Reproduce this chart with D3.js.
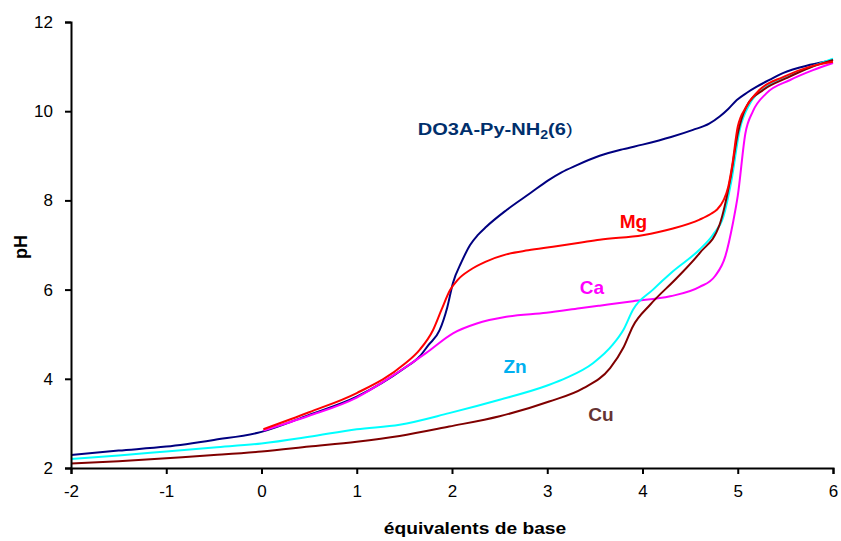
<!DOCTYPE html>
<html><head><meta charset="utf-8">
<script src="https://cdn.jsdelivr.net/npm/d3@7"></script>
<style>body{margin:0;background:#fff}svg{display:block;font-family:Arial,"Liberation Sans",sans-serif}</style>
</head><body><svg id="c" width="841" height="541"></svg>
<script>
const xTicks = [-2,-1,0,1,2,3,4,5,6];
const yTicks = [2,4,6,8,10,12];

const do3aX = [-2,-1.5,-1,-0.5,0,0.5,1,1.5,1.66,1.75,1.87,1.95,2.01,2.1,2.19,2.27,2.36,2.57,2.82,3.01,3.15,3.3,3.55,3.8,4.0,4.3,4.53,4.7,4.81,4.9,4.99,5.1,5.2,5.35,5.48,5.76,6.0];
const do3aY = [2.29,2.39,2.48,2.63,2.81,3.19,3.6,4.24,4.5,4.75,5.09,5.6,6.15,6.62,7.0,7.22,7.41,7.78,8.16,8.45,8.63,8.78,9.0,9.15,9.25,9.42,9.58,9.72,9.88,10.05,10.25,10.42,10.55,10.72,10.86,11.04,11.15];

const mgX = [0.02,0.5,1.0,1.5,1.66,1.8,1.89,1.98,2.06,2.19,2.35,2.57,2.8,3.06,3.34,3.55,4.0,4.32,4.6,4.72,4.78,4.85,4.9,4.94,5.0,5.09,5.23,5.48,5.76,6.0];
const mgY = [2.87,3.25,3.68,4.33,4.65,5.09,5.55,5.99,6.22,6.44,6.62,6.79,6.88,6.96,7.05,7.12,7.22,7.37,7.57,7.7,7.79,8.0,8.3,8.76,9.65,10.1,10.48,10.77,11.0,11.11];

const caX = [0.02,0.5,1.0,1.45,1.73,2.01,2.26,2.57,2.99,3.34,3.55,3.9,4.29,4.6,4.76,4.87,4.95,5.0,5.08,5.16,5.3,5.55,5.79,6.0];
const caY = [2.84,3.17,3.58,4.17,4.58,5.02,5.24,5.39,5.48,5.58,5.64,5.74,5.85,6.06,6.3,6.75,7.5,8.1,9.5,10.0,10.4,10.7,10.92,11.08];

const znX = [-2,-1.5,-1,-0.5,0,0.5,1,1.45,1.97,2.5,3.0,3.2,3.48,3.69,3.8,3.9,4.11,4.32,4.6,4.74,4.85,4.93,5.02,5.13,5.3,5.55,5.8,6.0];
const znY = [2.2,2.28,2.37,2.46,2.55,2.7,2.87,2.97,3.23,3.53,3.85,4.02,4.35,4.77,5.1,5.55,6.0,6.41,6.9,7.23,7.64,8.4,9.58,10.18,10.55,10.8,11.02,11.18];

const cuX = [-2,-1.5,-1,-0.5,0,0.5,1,1.45,1.97,2.5,3.02,3.38,3.66,3.8,3.9,4.08,4.36,4.6,4.81,4.92,5.0,5.09,5.27,5.51,5.76,6.0];
const cuY = [2.1,2.15,2.22,2.29,2.37,2.48,2.59,2.72,2.93,3.16,3.49,3.79,4.24,4.7,5.18,5.66,6.26,6.82,7.46,8.46,9.5,10.1,10.48,10.74,10.98,11.15];

const seriesNames = ["DO3A","Mg","Ca","Zn","Cu"];
const seriesColors = ["#000080","#ff0000","#ff00ff","#00ffff","#800000"];
const labelTexts = ["DO3A-Py-NH","Mg","Ca","Zn","Cu"];
const labelColors = ["#002f6c","#ff0000","#ff00ff","#00b0f0","#663333"];
const labelX = [1.64,3.76,3.34,2.54,3.43];
const labelY = [9.47,7.37,5.9,4.13,3.05];

const svg = d3.select("#c");
const x = d3.scaleLinear().domain([-2,6]).range([71,833]);
const y = d3.scaleLinear().domain([2,12]).range([468,22]);

const data = [[do3aX,do3aY],[mgX,mgY],[caX,caY],[znX,znY],[cuX,cuY]];
const line = d3.line().x(d=>x(d[0])).y(d=>y(d[1])).curve(d3.curveMonotoneX);

const order = [0,2,3,4,1];
order.forEach(i=>{
  const pts = data[i][0].map((v,k)=>[v,data[i][1][k]]);
  svg.append("path").datum(pts).attr("d",line).attr("fill","none")
    .attr("stroke",seriesColors[i]).attr("stroke-width",2);
});

const fmt = d => String(d);
const xa = svg.append("g").attr("transform","translate(0,468)")
  .call(d3.axisBottom(x).tickValues(xTicks).tickSize(6).tickPadding(11).tickFormat(fmt));
const ya = svg.append("g").attr("transform","translate(71,0)")
  .call(d3.axisLeft(y).tickValues(yTicks).tickSize(6).tickPadding(12).tickFormat(fmt));
[xa,ya].forEach(a=>{
  a.select(".domain").attr("stroke","#000").attr("stroke-width",2);
  a.selectAll(".tick line").attr("stroke","#000").attr("stroke-width",2);
  a.selectAll(".tick text").attr("font-size",17).attr("font-family","Arial, 'Liberation Sans', sans-serif").attr("fill","#000");
});

svg.append("text").attr("transform","translate(475,534) scale(1.2,1)").attr("text-anchor","middle")
  .attr("font-size",16).attr("font-weight","bold").text("équivalents de base");
svg.append("text").attr("transform","translate(27,247) rotate(-90)").attr("text-anchor","middle")
  .attr("font-size",18).attr("font-weight","bold").text("pH");

labelTexts.forEach((t,i)=>{
  const sx = i===0 ? 1.18 : 1.06;
  const tx = svg.append("text")
    .attr("transform",`translate(${x(labelX[i])},${y(labelY[i])}) scale(${sx},1)`)
    .attr("font-size",i===0?17:18).attr("font-weight","bold").attr("fill",labelColors[i]).text(t);
  if(i===0){
    tx.append("tspan").attr("font-size",12).attr("dy",4).text("2");
    tx.append("tspan").attr("dy",-4).text("(6");
    tx.append("tspan").attr("font-weight","normal").text(")");
  }
});
</script></body></html>
